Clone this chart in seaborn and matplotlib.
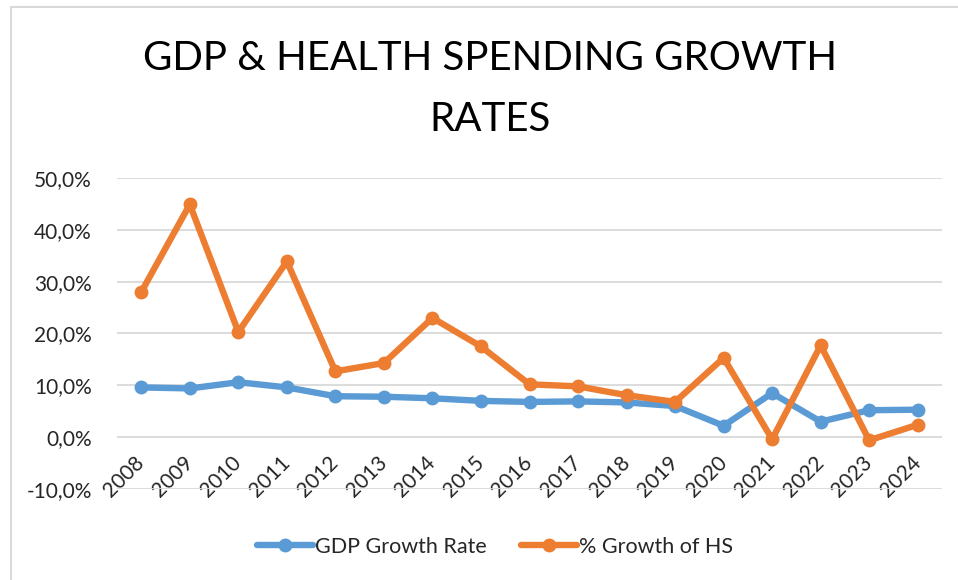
import matplotlib
matplotlib.use("Agg")
import matplotlib.pyplot as plt
from matplotlib.lines import Line2D
from matplotlib.ticker import FuncFormatter
import seaborn as sns
import pandas as pd

years = list(range(2008, 2025))
gdp_growth = [9.6, 9.4, 10.6, 9.6, 7.9, 7.8, 7.5, 7.0, 6.8, 6.9, 6.7, 6.0, 2.2, 8.5, 3.0, 5.2, 5.3]
hs_growth = [28.0, 44.9, 20.3, 33.9, 12.7, 14.3, 23.0, 17.5, 10.2, 9.8, 8.1, 6.8, 15.3, -0.4, 17.7, -0.6, 2.4]
series_names = ["GDP Growth Rate", "% Growth of HS"]
colors = ["#5B9BD5", "#ED7D31"]
title = "GDP & HEALTH SPENDING GROWTH\nRATES"

sns.set_theme(style="white")
plt.rcParams["font.family"] = ["Lato", "DejaVu Sans"]

df = pd.DataFrame({
    "year": years * 2,
    "value": [v / 100 for v in gdp_growth] + [v / 100 for v in hs_growth],
    "series": [series_names[0]] * len(years) + [series_names[1]] * len(years),
})

W, H = 958, 580
fig = plt.figure(figsize=(W / 100, H / 100), dpi=100)
ax = fig.add_axes([117 / W, 1 - 489 / H, (942 - 117) / W, (489 - 178) / H])

sns.lineplot(data=df, x="year", y="value", hue="series", palette=colors,
             hue_order=series_names, marker="o", markersize=10, linewidth=4.6,
             markeredgewidth=0, ax=ax, legend=False)

# category axis crosses the value axis at zero, labels hang below that line
ax.spines["bottom"].set_position(("data", 0))
for s in ax.spines.values():
    s.set_visible(False)

ax.set_xlim(years[0] - 0.5, years[-1] + 0.5)
ax.set_ylim(-0.10, 0.50)
ax.set_yticks([-0.1, 0.0, 0.1, 0.2, 0.3, 0.4, 0.5])
ax.yaxis.set_major_formatter(FuncFormatter(lambda v, _: f"{v * 100:.1f}%".replace(".", ",")))
ax.set_xticks(years)
ax.set_xticklabels([str(y) for y in years], rotation=45, ha="right", va="center",
                   rotation_mode="anchor")
ax.grid(axis="y", color="#D9D9D9", linewidth=1.3)
ax.set_axisbelow(True)
ax.tick_params(axis="y", length=0, pad=18, labelsize=15, labelcolor="#262626")
ax.tick_params(axis="x", length=0, pad=16, labelsize=15, labelcolor="#262626")
ax.set_xlabel("")
ax.set_ylabel("")

fig.text(490 / W, 1 - 89 / H, title, ha="center", va="center", fontsize=29,
         color="#000000", linespacing=1.8)

handles = [Line2D([0], [0], color=c, lw=4.6, marker="o", markersize=10, markeredgewidth=0)
           for c in colors]
fig.legend(handles, series_names, loc="center", bbox_to_anchor=(495 / W, 1 - 547 / H),
           ncol=2, frameon=False, fontsize=15.5, handlelength=2.6, handletextpad=0.1,
           columnspacing=1.6)

border = "#D9D9D9"
fig.add_artist(Line2D([11 / W, 11 / W], [0, 1 - 7 / H], color=border, lw=1.5))
fig.add_artist(Line2D([11 / W, 1], [1 - 7 / H, 1 - 7 / H], color=border, lw=1.5))

fig.savefig("out.png", dpi=100)
